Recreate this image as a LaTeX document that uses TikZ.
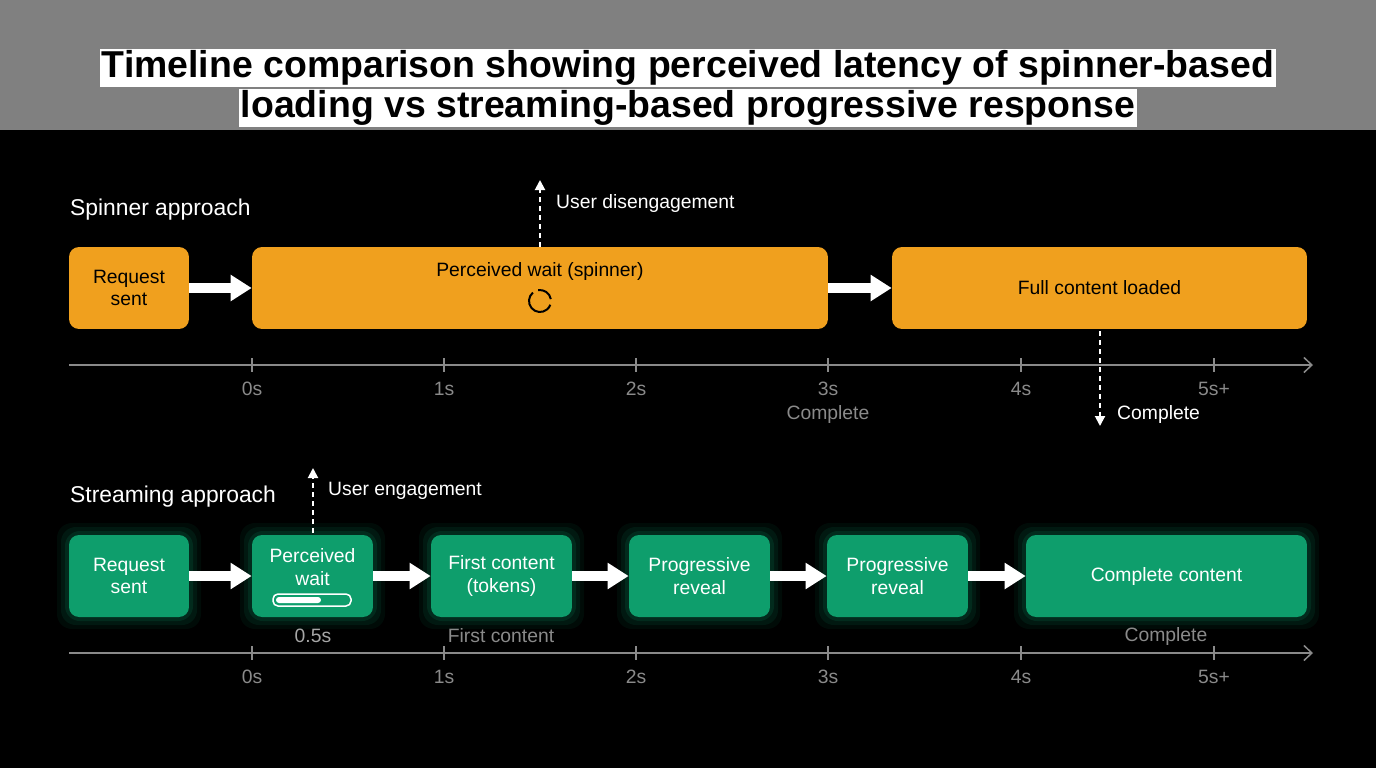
\documentclass[tikz,border=0pt]{standalone}
\usepackage{fontspec}
\setmainfont{Liberation Sans}
\usetikzlibrary{arrows.meta}
\definecolor{spin}{HTML}{F0A01E}
\definecolor{strm}{HTML}{0E9E6C}
\definecolor{axisgray}{HTML}{8A8A8A}
\tikzset{
  obox/.style={rectangle, rounded corners=0.2cm, fill=spin, text=black, align=center, font=\fontsize{11}{13}\selectfont, inner sep=0pt},
  gbox/.style={rectangle, rounded corners=0.2cm, fill=strm, text=white, align=center, font=\fontsize{11}{13}\selectfont, inner sep=0pt},
  flow/.style={-{Triangle[length=0.42cm,width=0.5cm]}, white, line width=0.2cm},
  hint/.style={-{Triangle[length=0.2cm,width=0.2cm]}, white, dashed, line width=0.04cm, dash pattern=on 0.1cm off 0.08cm},
  lbl/.style={white, font=\fontsize{11}{12}\selectfont, anchor=west},
  tick/.style={axisgray, font=\fontsize{11}{12}\selectfont},
  head/.style={white, font=\fontsize{13}{14}\selectfont, anchor=west}
}
\begin{document}
\begin{tikzpicture}[x=0.02cm,y=-0.02cm]
\fill[black] (0,0) rectangle (1376,768);
\fill[black!50] (0,0) rectangle (1376,130);
% title
\node (t1) at (688,68) [fill=white, text=black, inner sep=1pt, font=\bfseries\fontsize{21.3}{24}\selectfont] {Timeline comparison showing perceived latency of spinner-based};
\node (t2) at (688,108) [fill=white, text=black, inner sep=1pt, font=\bfseries\fontsize{21.3}{24}\selectfont] {loading vs streaming-based progressive response};
% spinner approach
\node (sh) at (64,210) [head] {Spinner approach};
\node (s1) at (129,288) [obox, minimum width=2.4cm, minimum height=1.64cm] {Request\\sent};
\node (s2) at (540,288) [obox, minimum width=11.52cm, minimum height=1.64cm] {};
\node at (540,271) [font=\fontsize{11}{12}\selectfont] {Perceived wait (spinner)};
\draw[black, line width=0.04cm] (540,301) ++(10:0.22cm) arc (10:100:0.22cm);
\draw[black, line width=0.04cm] (540,301) ++(130:0.22cm) arc (130:340:0.22cm);
\node (s3) at (1099.5,288) [obox, minimum width=8.3cm, minimum height=1.64cm] {Full content loaded};
\draw[flow] (s1) -- (s2);
\draw[flow] (s2) -- (s3);
\coordinate (up1) at (540,180);
\draw[hint] (540,247) -- (up1);
\node (d1) at (550,203) [lbl] {User disengagement};
\coordinate (dn1) at (1100,426);
\draw[hint] (1100,331) -- (dn1);
\node (c1) at (1111,414) [lbl] {Complete};
% spinner axis
\draw[axisgray, line width=0.03cm, -{Straight Barb[length=0.16cm,width=0.3cm]}] (69,365) -- (1313,365);
\foreach \x/\t in {252/0s,444/1s,636/2s,828/3s,1021/4s,1214/5s+}{
  \draw[axisgray, line width=0.03cm] (\x,358) -- (\x,372);
  \node at (\x,389) [tick] {\t};
}
\node (sc) at (828,414) [tick] {Complete};
% streaming approach
\node (gh) at (64,497) [head] {Streaming approach};
\foreach \cx/\w in {129/2.4,312.5/2.42,501.5/2.82,699.5/2.82,897.5/2.82,1166.5/5.62}{
  \foreach \g/\o in {12/0.07,8/0.1,4/0.14}
    \fill[strm, opacity=\o, rounded corners=0.3cm] ([shift={(-\w*25-\g,-41-\g)}]\cx,576) rectangle ([shift={(\w*25+\g,41+\g)}]\cx,576);
}
\node (g1) at (129,576) [gbox, minimum width=2.4cm, minimum height=1.64cm] {Request\\sent};
\node (g2) at (312.5,576) [gbox, minimum width=2.42cm, minimum height=1.64cm] {};
\node at (312.5,567) [white, align=center, font=\fontsize{11}{13}\selectfont] {Perceived\\wait};
\draw[white, line width=0.03cm, rounded corners=0.1cm] (273,594) rectangle (351,606);
\fill[white, rounded corners=0.06cm] (276,597) rectangle (321,603);
\node (g3) at (501.5,576) [gbox, minimum width=2.82cm, minimum height=1.64cm] {First content\\(tokens)};
\node (g4) at (699.5,576) [gbox, minimum width=2.82cm, minimum height=1.64cm] {Progressive\\reveal};
\node (g5) at (897.5,576) [gbox, minimum width=2.82cm, minimum height=1.64cm] {Progressive\\reveal};
\node (g6) at (1166.5,576) [gbox, minimum width=5.62cm, minimum height=1.64cm] {Complete content};
\foreach \a/\b in {g1/g2,g2/g3,g3/g4,g4/g5,g5/g6}
  \draw[flow] (\a) -- (\b);
\coordinate (up2) at (313,468);
\draw[hint] (313,533) -- (up2);
\node (e1) at (322,491) [lbl] {User engagement};
\node (p1) at (313,636) [tick, text=gray!70] {0.5s};
\node (p2) at (501,636) [tick] {First content};
\node (p3) at (1166,636) [tick] {Complete};
% streaming axis
\draw[axisgray, line width=0.03cm, -{Straight Barb[length=0.16cm,width=0.3cm]}] (69,653) -- (1313,653);
\foreach \x/\t in {252/0s,444/1s,636/2s,828/3s,1021/4s,1214/5s+}{
  \draw[axisgray, line width=0.03cm] (\x,646) -- (\x,660);
  \node at (\x,677) [tick] {\t};
}
\end{tikzpicture}
\end{document}
